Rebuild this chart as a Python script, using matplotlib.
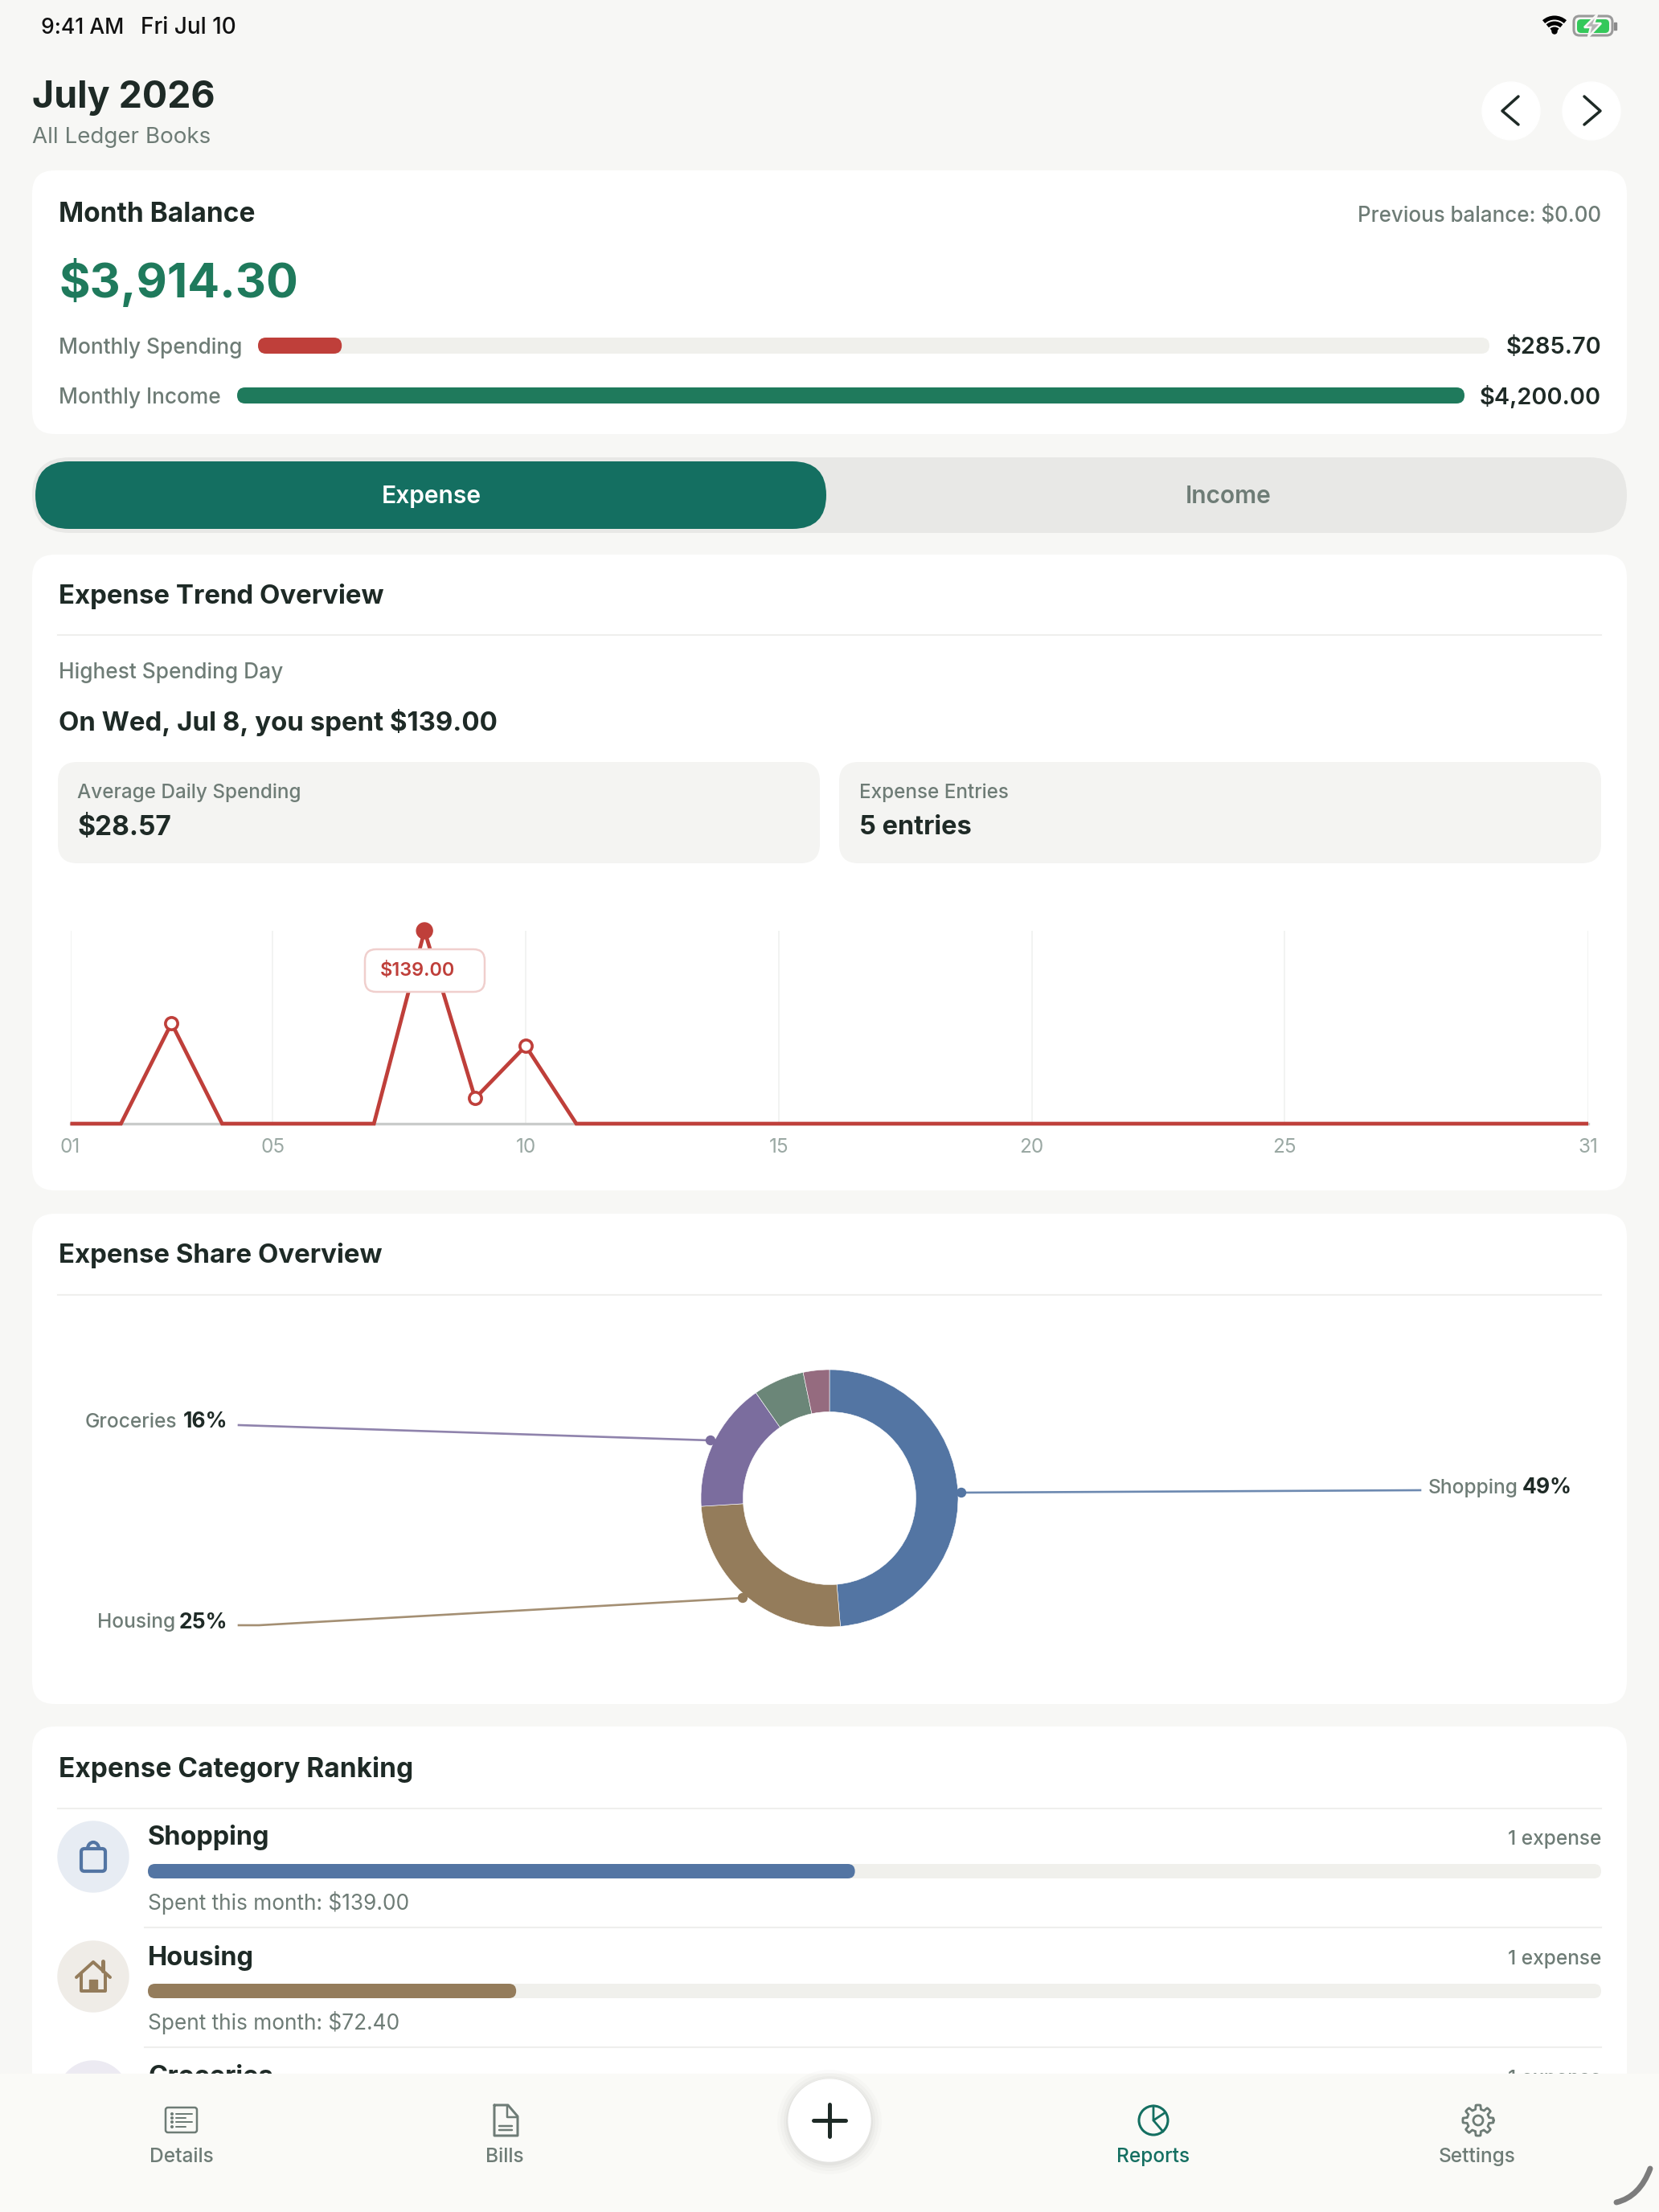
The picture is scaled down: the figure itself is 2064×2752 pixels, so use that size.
import numpy as np
import matplotlib
matplotlib.use("Agg")
import matplotlib.pyplot as plt
from matplotlib.patches import FancyBboxPatch, Circle, Rectangle, PathPatch, Arc, Polygon
from matplotlib.path import Path

W, H = 2064, 2752
plt.rcParams['font.family'] = ['Inter', 'DejaVu Sans']

# data
days = np.arange(1, 32)
daily_spend = [0, 0, 72.4, 0, 0, 0, 0, 139.0, 18.3, 56.0] + [0] * 21
tick_days = [1, 5, 10, 15, 20, 25, 31]
tick_names = ['01', '05', '10', '15', '20', '25', '31']

share_names = ['Shopping', 'Housing', 'Groceries', 'Transport', 'Other']
share_values = [139.0, 72.4, 46.6, 18.3, 9.4]
share_colors = ['#5375A3', '#947C5B', '#7B6D9E', '#6B8678', '#956B7F']

spending_total = 285.70
income_total = 4200.00
rank_names = ['Shopping', 'Housing', 'Groceries']
rank_values = [139.00, 72.40, 46.60]
rank_colors = ['#5375A3', '#947C5B', '#7B6D9E']
rank_circles = ['#E7ECF3', '#EFECE7', '#ECEAF2']

INK = '#1E2A26'
GRAY = '#6E7C76'
RED = '#BF3F3A'
GREEN = '#1F7A5C'
TEAL = '#146F61'
TRACK = '#F0F0EC'
LINE = '#EFEFED'

fig = plt.figure(figsize=(W / 100, H / 100), dpi=100, facecolor='#F7F7F5')


def px_axes(z):
    a = fig.add_axes([0, 0, 1, 1], zorder=z)
    a.set_xlim(0, W)
    a.set_ylim(H, 0)
    a.axis('off')
    a.patch.set_alpha(0)
    return a


ax = px_axes(0)
top = px_axes(5)


def rbox(x0, y0, x1, y1, r, color, a=ax, z=1, ec='none', lw=0):
    p = FancyBboxPatch((x0 + r, y0 + r), x1 - x0 - 2 * r, y1 - y0 - 2 * r,
                       boxstyle="round,pad=%f,rounding_size=%f" % (r, r),
                       fc=color, ec=ec, lw=lw, zorder=z)
    a.add_patch(p)
    return p


def label(x, y, s, size, color=INK, weight='normal', ha='left', a=ax, z=3):
    # size is in image pixels, y nudged to sit on the reference's text centre
    return a.text(x, y + 4.5, s, fontsize=size * 0.72, color=color, fontweight=weight,
                  ha=ha, va='center', zorder=z)


def stroke(pts, color, lw, a=ax, z=3, closed=False):
    xs = [p[0] for p in pts]
    ys = [p[1] for p in pts]
    if closed:
        xs.append(xs[0])
        ys.append(ys[0])
    a.plot(xs, ys, color=color, lw=lw * 0.72, solid_capstyle='round',
           solid_joinstyle='round', zorder=z)


# status bar
label(51, 30, '9:41 AM', 26.5, '#111111', 'medium')
label(175, 30, 'Fri Jul 10', 28, '#111111', 'medium')
for r, t in [(20, 5), (13, 5), (6.5, 4)]:
    ax.add_patch(Arc((1934, 42), 2 * r, 2 * r, theta1=228, theta2=312, color='black', lw=t * 0.72, zorder=3))
ax.add_patch(Circle((1934, 39), 3, color='black', zorder=3))
rbox(1958, 20, 2006, 44, 7, 'none', ec='#9A9A9A', lw=2.2)
rbox(1962, 24, 2002, 41, 5, '#34C85A', z=2)
ax.add_patch(Polygon([(1987, 18), (1971, 34), (1979, 34), (1976, 46), (1992, 29), (1983, 29)],
                     fc='#B5B5B5', ec='#F7F7F5', lw=1.8, zorder=3))
ax.add_patch(Rectangle((2008, 28), 3, 9, color='#8A8A8A', zorder=3))

# header
label(40, 118, 'July 2026', 46.5, INK, 'bold')
label(40, 167, 'All Ledger Books', 27.8, GRAY)
for cx, sgn in [(1880, -1), (1980, 1)]:
    ax.add_patch(Circle((cx, 138), 36, color='white', zorder=1))
    stroke([(cx - sgn * 9, 120), (cx + sgn * 11, 138), (cx - sgn * 9, 155)], INK, 3.5)

# month balance card
rbox(40, 212, 2024, 540, 28, 'white')
label(73, 263, 'Month Balance', 33.4, INK, 'bold')
label(1992, 265, 'Previous balance: $0.00', 26, GRAY, 'medium', ha='right')
label(73, 347, '$3,914.30', 59, GREEN, 'bold')

label(73, 428, 'Monthly Spending', 26.3, GRAY, 'medium')
x0, x1 = 321, 1853
rbox(x0, 420, x1, 440, 10, TRACK)
rbox(x0, 420, x0 + (x1 - x0) * spending_total / income_total, 440, 10, RED, z=2)
label(1992, 428, '$285.70', 29, INK, 'semibold', ha='right')

label(73, 490, 'Monthly Income', 26.3, GRAY, 'medium')
x0, x1 = 295, 1822
rbox(x0, 482, x1, 502, 10, GREEN, z=2)
label(1992, 490, '$4,200.00', 29, INK, 'semibold', ha='right')

# segment control
rbox(40, 569, 2024, 663, 47, '#E8E8E6')
rbox(44, 574, 1028, 658, 42, TEAL, z=2)
label(537, 613, 'Expense', 30, 'white', 'semibold', ha='center')
label(1528, 613, 'Income', 30, GRAY, 'semibold', ha='center')

# trend card
rbox(40, 690, 2024, 1481, 28, 'white')
label(73, 737, 'Expense Trend Overview', 33, INK, 'bold')
ax.plot([72, 1992], [790, 790], color=LINE, lw=1.5, zorder=2)
label(73, 832, 'Highest Spending Day', 26.3, GRAY, 'medium')
label(73, 895, 'On Wed, Jul 8, you spent $139.00', 33, INK, 'bold')
rbox(72, 948, 1020, 1074, 24, '#F4F4F2')
rbox(1044, 948, 1992, 1074, 24, '#F4F4F2')
label(96, 982, 'Average Daily Spending', 24.3, GRAY, 'medium')
label(96, 1025, '$28.57', 33.5, INK, 'bold')
label(1069, 982, 'Expense Entries', 24.3, GRAY, 'medium')
label(1069, 1025, '5 entries', 32.5, INK, 'bold')

# line chart, axes box placed so day 1..31 and 0..139 land on the card
chart = fig.add_axes([87.5 / W, 1 - 1398 / H, (1976 - 87.5) / W, 240 / H], zorder=2)
chart.patch.set_alpha(0)
spend = np.array(daily_spend)
chart.plot(days, spend, color=RED, lw=3.4, solid_joinstyle='miter', solid_capstyle='butt',
           clip_on=False, zorder=3)
hit = (spend > 0) & (spend < spend.max())
chart.plot(days[hit], spend[hit], ls='none', marker='o', ms=11, mfc='white', mec=RED, mew=2.6,
           clip_on=False, zorder=4)
chart.set_xlim(1, 31)
chart.set_ylim(0, spend.max())
chart.set_xticks(tick_days)
chart.set_xticklabels(tick_names, fontsize=17.5, color='#9AA8A3')
chart.set_yticks([])
chart.tick_params(axis='x', length=0, pad=13)
chart.grid(axis='x', color='#F0F1F0', lw=1.2)
for s in ['top', 'left', 'right']:
    chart.spines[s].set_visible(False)
chart.spines['bottom'].set_color('#C9CBCA')
chart.spines['bottom'].set_linewidth(2.4)

# peak marker and tooltip sit above the chart
peak = int(days[spend.argmax()])
px = 87.5 + (peak - 1) * (1976 - 87.5) / 30
top.add_patch(Circle((px, 1158), 10, color=RED, zorder=4))
rbox(454, 1181, 603, 1234, 14, 'white', a=top, z=5, ec='#F0CFCD', lw=1.8)
label(473, 1203, '$139.00', 23.5, RED, 'semibold', a=top, z=6)

# share card
rbox(40, 1510, 2024, 2120, 28, 'white')
label(73, 1558, 'Expense Share Overview', 33, INK, 'bold')
ax.plot([72, 1992], [1611, 1611], color=LINE, lw=1.5, zorder=2)

donut = fig.add_axes([(1032 - 160) / W, 1 - (1864 + 160) / H, 320 / W, 320 / H], zorder=2)
wedges, pie_texts = donut.pie(share_values, colors=share_colors, startangle=90, counterclock=False, radius=1,
                              wedgeprops=dict(width=52.5 / 160, edgecolor='#FFFFFF', linewidth=0.4))
for t in pie_texts:
    t.remove()
donut.set_xlim(-1, 1)
donut.set_ylim(-1, 1)

# name right edge, pct right edge for the left side labels
leaders = [('Groceries', '16%', [(297, 1773), (884, 1792)], 220, 283, 1765, share_colors[2]),
           ('Housing', '25%', [(297, 2022), (322, 2022), (924, 1988)], 218, 283, 2014, share_colors[1]),
           ('Shopping', '49%', [(1767, 1854), (1196, 1857)], 1889, 1956, 1847, share_colors[0])]
for name, pct, pts, nx, lx, ly, col in leaders:
    ax.plot([p[0] for p in pts], [p[1] for p in pts], color=col, alpha=0.85, lw=1.9, zorder=2)
    top.add_patch(Circle(pts[-1], 5.5, color=col, zorder=4))
    label(nx, ly, name, 24.6, GRAY, 'medium', ha='right')
    label(lx, ly, pct, 26.5, INK, 'bold', ha='right')

# ranking card
rbox(40, 2148, 2024, 2800, 28, 'white')
label(73, 2197, 'Expense Category Ranking', 33.4, INK, 'bold')
ax.plot([72, 1992], [2250, 2250], color=LINE, lw=1.5, zorder=2)
row_h = 149
for i, (name, val, col, circ) in enumerate(zip(rank_names, rank_values, rank_colors, rank_circles)):
    dy = i * row_h
    ax.add_patch(Circle((116, 2310 + dy), 44, color=circ, zorder=2))
    label(184, 2282 + dy, name, 32.5, INK, 'bold')
    label(1992, 2284 + dy, '1 expense', 24.5, GRAY, 'medium', ha='right')
    rbox(184, 2319 + dy, 1992, 2337 + dy, 9, TRACK)
    rbox(184, 2319 + dy, 184 + 1808 * val / spending_total, 2337 + dy, 9, col, z=2)
    label(184, 2363 + dy, 'Spent this month: $%.2f' % val, 26.3, GRAY)
    ax.plot([180, 1992], [2398 + dy, 2398 + dy], color=LINE, lw=1.5, zorder=2)

# bag icon
rbox(101, 2300, 131, 2328, 4, 'none', z=3, ec=rank_colors[0], lw=3)
ax.add_patch(Arc((116, 2300), 14, 16, theta1=180, theta2=360, color=rank_colors[0], lw=3, zorder=3))
# house icon
hc = rank_colors[1]
stroke([(95, 2460), (116, 2441), (137, 2460)], hc, 4)
stroke([(128, 2440), (128, 2452)], hc, 5)
stroke([(101, 2456), (101, 2477), (131, 2477), (131, 2456)], hc, 4)
ax.add_patch(Rectangle((111, 2463), 10, 14, color=hc, zorder=3))

# bottom nav
ax.add_patch(Rectangle((0, 2580), W, 172, color='#FAFAF7', zorder=6))
for off, alpha in [(14, 0.015), (10, 0.02), (6, 0.025), (3, 0.03)]:
    ax.add_patch(Circle((1032, 2640), 51 + off, color='black', alpha=alpha, lw=0, zorder=7))
ax.add_patch(Circle((1032, 2638), 51, color='white', zorder=8))
stroke([(1012, 2638), (1052, 2638)], INK, 5, z=9)
stroke([(1032, 2618), (1032, 2658)], INK, 5, z=9)

NAV = '#6E7C76'
for x, s, c in [(226, 'Details', NAV), (628, 'Bills', NAV), (1435, 'Reports', TEAL), (1838, 'Settings', NAV)]:
    label(x, 2679, s, 24.5, c, 'medium', ha='center', z=9)

# details icon
rbox(206, 2622, 245, 2653, 3, 'none', a=ax, z=9, ec=NAV, lw=1.8)
for yy, xe in [(2630, 239), (2635, 231), (2640, 239), (2646, 231)]:
    stroke([(219, yy), (xe, yy)], NAV, 2, z=9)
    ax.add_patch(Circle((214, yy), 1.3, color=NAV, zorder=9))
# bills icon
stroke([(615, 2619), (632, 2619), (644, 2633), (644, 2657), (615, 2657)], NAV, 3, z=9, closed=True)
stroke([(631, 2620), (631, 2634), (643, 2634)], NAV, 2.5, z=9)
stroke([(621, 2645), (637, 2645)], NAV, 2.5, z=9)
stroke([(621, 2650), (637, 2650)], NAV, 2.5, z=9)
# reports icon
ax.add_patch(Circle((1435, 2638), 18, fill=False, ec=TEAL, lw=2.2, zorder=9))
stroke([(1435, 2620), (1435, 2638), (1450, 2628)], TEAL, 2.8, z=9)
stroke([(1435, 2638), (1447, 2652)], TEAL, 2.8, z=9)
# settings icon, gear outline
ang = np.linspace(0, 2 * np.pi, 241)
rad = 16.5 + 2.6 * np.clip(3 * np.cos(8 * ang), -1, 1)
ax.plot(1839 + rad * np.cos(ang), 2638 + rad * np.sin(ang), color=NAV, lw=2, zorder=9)
ax.add_patch(Circle((1839, 2638), 6, fill=False, ec=NAV, lw=2, zorder=9))

# corner swoosh
sw = Path([(2011, 2740), (2040, 2733), (2053, 2698)], [Path.MOVETO, Path.CURVE3, Path.CURVE3])
ax.add_patch(PathPatch(sw, fc='none', ec='#7C7C7C', lw=5, capstyle='round', zorder=9))

fig.savefig('out.png', dpi=100, facecolor=fig.get_facecolor())
